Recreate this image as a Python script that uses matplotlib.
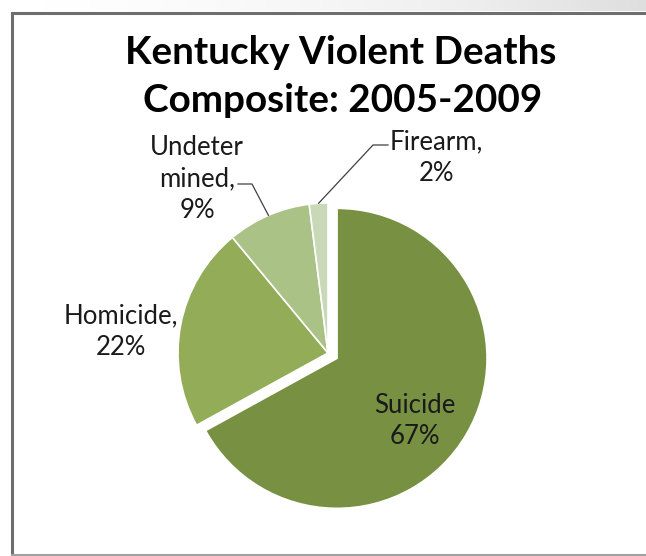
import numpy as np
import matplotlib.pyplot as plt
from matplotlib.patches import Rectangle

# data
categories = ["Suicide", "Homicide", "Undetermined", "Firearm"]
percents = [67, 22, 9, 2]
label_texts = ["Suicide\n67%", "Homicide,\n22%", "Undeter\nmined,\n9%", "Firearm,\n2%"]
colors = ["#779041", "#92AC58", "#ABC286", "#C9D9B8"]

W, H = 646, 556
fig = plt.figure(figsize=(W / 100, H / 100), dpi=100)
fig.patch.set_facecolor("white")

# gray strip at the top of the screenshot
grad = fig.add_axes([0, 1 - 11 / H, 1, 11 / H])
g = np.linspace(0, 1, 256) ** 1.5
grad.imshow(np.vstack([g, g]), cmap="Greys", vmin=0, vmax=4.5, aspect="auto")
grad.axis("off")

ax = fig.add_axes([0, 0, 1, 1])
ax.set_facecolor("none")

cx, cy, r = 328, H - 353, 150
explode = [10.5, 0, 0, 0]
wedges, _ = ax.pie(percents, colors=colors, startangle=90, counterclock=False,
                   center=(cx, cy), radius=r, explode=explode, frame=True,
                   wedgeprops=dict(edgecolor="white", linewidth=1.2))

ax.set_xlim(0, W)
ax.set_ylim(0, H)
ax.set_aspect("equal")
ax.axis("off")

# chart border
ax.add_patch(Rectangle((11.5, -5), W, H - 12.5 + 5, fill=False,
                       edgecolor="#6e6e6e", linewidth=2.2))
ax.plot([12, W], [1.5, 1.5], color="#a0a0a0", linewidth=1.5)

# title
tfont = dict(family=["Lato", "DejaVu Sans"], fontweight="bold", fontsize=27.8,
             ha="center", va="center", color="black")
ax.text(341, H - 52, "Kentucky Violent Deaths", **tfont)
ax.text(343, H - 101, "Composite: 2005-2009", **tfont)

lfont = dict(family=["Lato", "DejaVu Sans"], fontsize=18.5, ha="center",
             va="center", color="#1a1a1a", linespacing=1.33)

# data labels
ax.text(415, H - 421, label_texts[0], **lfont)
ax.text(121, H - 332, label_texts[1], **lfont)
ax.text(197, H - 179, label_texts[2], **lfont)
ax.text(436, H - 158, label_texts[3], **lfont)

# leader lines to the arc at mid angle of the small slices
cum = np.cumsum([0] + percents)
mids = 90 - 3.6 * (cum[:-1] + cum[1:]) / 2
for i, (x0, y0, x1) in zip([2, 3], [(238, H - 184, 252), (388, H - 145, 373)]):
    a = np.deg2rad(mids[i])
    ex, ey = cx + r * np.cos(a), cy + r * np.sin(a)
    ax.plot([x0, x1, ex], [y0, y0, ey], color="#404040", linewidth=0.9)

fig.savefig("out.png", dpi=100)
